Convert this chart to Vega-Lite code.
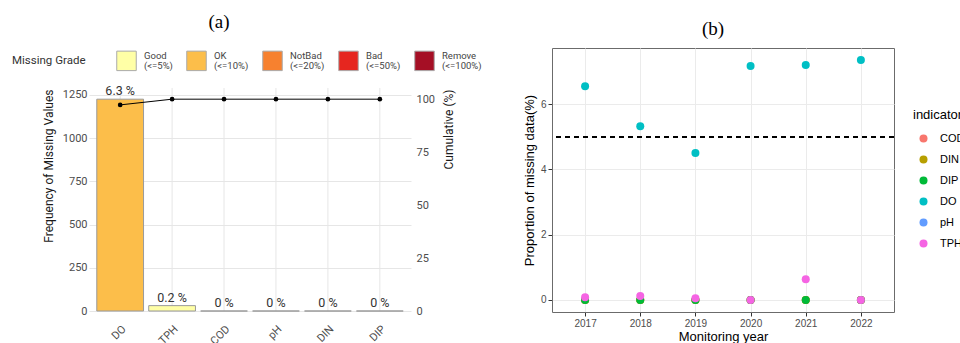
{
  "$schema": "https://vega.github.io/schema/vega-lite/v6.json",
  "background": "white",
  "padding": {"left": 12, "top": 13, "right": 0, "bottom": 0},
  "config": {"view": {"stroke": null}, "style": {"guide-label": {"lineHeight": 10}}},
  "datasets": {
    "pareto": [
      {"variable": "DO", "count": 1225, "pct": "6.3 %", "grade": "OK", "cum": 97.3},
      {"variable": "TPH", "count": 31, "pct": "0.2 %", "grade": "Good", "cum": 100},
      {"variable": "COD", "count": 0, "pct": "0 %", "grade": "Good", "cum": 100},
      {"variable": "pH", "count": 0, "pct": "0 %", "grade": "Good", "cum": 100},
      {"variable": "DIN", "count": 0, "pct": "0 %", "grade": "Good", "cum": 100},
      {"variable": "DIP", "count": 0, "pct": "0 %", "grade": "Good", "cum": 100}
    ],
    "yearly": [
      {"year": 2017, "indicator": "COD", "value": 0},
      {"year": 2018, "indicator": "COD", "value": 0},
      {"year": 2019, "indicator": "COD", "value": 0},
      {"year": 2020, "indicator": "COD", "value": 0},
      {"year": 2021, "indicator": "COD", "value": 0},
      {"year": 2022, "indicator": "COD", "value": 0},
      {"year": 2017, "indicator": "DIN", "value": 0},
      {"year": 2018, "indicator": "DIN", "value": 0},
      {"year": 2019, "indicator": "DIN", "value": 0},
      {"year": 2020, "indicator": "DIN", "value": 0},
      {"year": 2021, "indicator": "DIN", "value": 0},
      {"year": 2022, "indicator": "DIN", "value": 0},
      {"year": 2017, "indicator": "DIP", "value": 0},
      {"year": 2018, "indicator": "DIP", "value": 0},
      {"year": 2019, "indicator": "DIP", "value": 0},
      {"year": 2020, "indicator": "DIP", "value": 0},
      {"year": 2021, "indicator": "DIP", "value": 0},
      {"year": 2022, "indicator": "DIP", "value": 0},
      {"year": 2017, "indicator": "DO", "value": 6.55},
      {"year": 2018, "indicator": "DO", "value": 5.32},
      {"year": 2019, "indicator": "DO", "value": 4.5},
      {"year": 2020, "indicator": "DO", "value": 7.17},
      {"year": 2021, "indicator": "DO", "value": 7.2},
      {"year": 2022, "indicator": "DO", "value": 7.35},
      {"year": 2017, "indicator": "TPH", "value": 0.08},
      {"year": 2018, "indicator": "TPH", "value": 0.12},
      {"year": 2019, "indicator": "TPH", "value": 0.05},
      {"year": 2020, "indicator": "TPH", "value": 0},
      {"year": 2021, "indicator": "TPH", "value": 0.63},
      {"year": 2022, "indicator": "TPH", "value": 0}
    ]
  },
  "spacing": 40,
  "resolve": {"scale": {"color": "independent", "x": "independent", "y": "independent"}, "legend": {"color": "independent"}},
  "hconcat": [
    {
      "width": 322,
      "height": 263,
      "data": {"name": "pareto"},
      "title": {"text": "(a)", "font": "Liberation Serif", "fontSize": 19, "fontWeight": "normal", "color": "#000", "anchor": "middle", "dx": -31, "offset": 16, "frame": "group"},
      "layer": [
        {
          "layer": [
            {
              "mark": {"type": "rule", "color": "#E6E6E6", "strokeWidth": 1},
              "encoding": {
                "x": {"field": "variable", "type": "nominal", "sort": null,
                  "scale": {"domain": ["DO", "TPH", "COD", "pH", "DIN", "DIP"], "paddingInner": 0.1, "paddingOuter": 0.15},
                  "axis": {"title": null, "grid": false, "ticks": false, "domain": false, "labelAngle": -45, "labelAlign": "right", "labelBaseline": "top", "labelPadding": 12, "labelFont": "Roboto", "labelFontSize": 11, "labelColor": "#4D4D4D"}},
                "y": {"datum": 0, "type": "quantitative", "scale": {"domain": [0, 1521], "nice": false}},
                "y2": {"datum": 1290}
              }
            },
            {
              "mark": {"type": "bar", "stroke": "#9a9a9a", "strokeWidth": 1},
              "encoding": {
                "x": {"field": "variable", "type": "nominal", "sort": null},
                "y": {"field": "count", "type": "quantitative",
                  "axis": {"values": [0, 125, 250, 375, 500, 625, 750, 875, 1000, 1125, 1250], "format": "d",
                    "labelExpr": "datum.value % 250 === 0 ? datum.label : ''",
                    "ticks": false, "domain": false, "grid": true,
                    "gridColor": "#E6E6E6",
                    "gridWidth": {"condition": {"test": "datum.value % 250 === 0", "value": 1}, "value": 0.5},
                    "labelFont": "Roboto", "labelFontSize": 11, "labelColor": "#4D4D4D", "labelPadding": 2,
                    "title": "Frequency of Missing Values", "titleFont": "Roboto", "titleFontSize": 12, "titleFontWeight": "normal", "titleColor": "#1a1a1a", "titlePadding": 7,
                    "titleY": 41, "titleAlign": "right"}},
                "color": {"field": "grade", "type": "nominal",
                  "scale": {"domain": ["Good", "OK", "NotBad", "Bad", "Remove"], "range": ["#FFFFA6", "#FCBE4A", "#F7812F", "#E6261F", "#A50F25"]},
                  "legend": {"orient": "none", "legendX": -77, "legendY": 2, "direction": "horizontal", "padding": 0,
                    "title": "Missing Grade", "titleOrient": "left", "titleFont": "Roboto", "titleFontSize": 11.5, "titleFontWeight": "normal", "titleColor": "#333", "titlePadding": 30, "titleBaseline": "middle",
                    "symbolType": "square", "symbolSize": 380, "symbolStrokeColor": "#aaaaaa", "symbolStrokeWidth": 1, "symbolOpacity": 1,
                    "labelExpr": "datum.label == 'Good' ? ['Good','(<=5%)'] : datum.label == 'OK' ? ['OK','(<=10%)'] : datum.label == 'NotBad' ? ['NotBad','(<=20%)'] : datum.label == 'Bad' ? ['Bad','(<=50%)'] : ['Remove','(<=100%)']",
                    "labelFont": "Roboto", "labelFontSize": 9.5, "labelColor": "#444", "labelOffset": 7, "labelBaseline": "bottom", "columnPadding": 11}}
              }
            },
            {
              "mark": {"type": "text", "baseline": "bottom", "dy": -1, "font": "Roboto", "fontSize": 12.5, "color": "#333"},
              "encoding": {
                "x": {"field": "variable", "type": "nominal", "sort": null},
                "y": {"field": "count", "type": "quantitative"},
                "text": {"field": "pct"}
              }
            }
          ]
        },
        {
          "mark": {"type": "line", "color": "#000", "strokeWidth": 1, "point": {"filled": true, "color": "#000", "size": 22}},
          "encoding": {
            "x": {"field": "variable", "type": "nominal", "sort": null},
            "y": {"field": "cum", "type": "quantitative", "scale": {"domain": [0, 124.16], "nice": false},
              "axis": {"orient": "right", "values": [0, 25, 50, 75, 100], "grid": false, "ticks": false, "domain": false,
                "labelFont": "Roboto", "labelFontSize": 11, "labelColor": "#4D4D4D", "labelPadding": 5,
                "title": "Cumulative (%)", "titleFont": "Roboto", "titleFontSize": 12, "titleFontWeight": "normal", "titleColor": "#1a1a1a",
                "titleAngle": 270, "titleX": 37, "titleY": 41, "titleAlign": "right", "titleBaseline": "middle"}}
          }
        }
      ],
      "resolve": {"scale": {"y": "independent"}}
    },
    {
      "width": 342,
      "height": 264,
      "data": {"name": "yearly"},
      "view": {"stroke": "#6b6b6b", "strokeWidth": 1},
      "title": {"text": "(b)", "font": "Liberation Serif", "fontSize": 19, "fontWeight": "normal", "color": "#000", "anchor": "middle", "dx": -10, "offset": 9, "frame": "group"},
      "layer": [
        {
          "mark": {"type": "point", "filled": true, "size": 64, "opacity": 1},
          "encoding": {
            "x": {"field": "year", "type": "ordinal", "scale": {"type": "point", "padding": 0.6},
              "axis": {"labelAngle": 0, "grid": true, "gridColor": "#EBEBEB", "gridWidth": 1, "domain": false, "ticks": true, "tickSize": 4, "tickColor": "#333",
                "labelFont": "Liberation Sans", "labelFontSize": 10, "labelColor": "#4D4D4D", "labelPadding": 2,
                "title": "Monitoring year", "titleFont": "Liberation Sans", "titleFontSize": 13, "titleFontWeight": "normal", "titleColor": "#000", "titlePadding": 2}},
            "y": {"field": "value", "type": "quantitative", "scale": {"domain": [-0.37, 7.72], "nice": false, "zero": false},
              "axis": {"values": [0, 1, 2, 3, 4, 5, 6, 7],
                "labelExpr": "datum.value % 2 === 0 ? datum.label : ''",
                "grid": true, "gridColor": "#EBEBEB",
                "gridWidth": {"condition": {"test": "datum.value % 2 === 0", "value": 1}, "value": 0.5},
                "domain": false, "ticks": true, "tickSize": 4, "tickColor": "#333",
                "tickOpacity": {"condition": {"test": "datum.value % 2 === 0", "value": 1}, "value": 0},
                "labelFont": "Liberation Sans", "labelFontSize": 10, "labelColor": "#4D4D4D", "labelPadding": 2,
                "title": "Proportion of missing data(%)", "titleFont": "Liberation Sans", "titleFontSize": 13, "titleFontWeight": "normal", "titleColor": "#000", "titlePadding": 4}},
            "color": {"field": "indicator", "type": "nominal",
              "scale": {"domain": ["COD", "DIN", "DIP", "DO", "pH", "TPH"], "range": ["#F8766D", "#B79F00", "#00BA38", "#00BFC4", "#619CFF", "#F564E3"]},
              "legend": {"orient": "none", "legendX": 361, "legendY": 61, "padding": 0,
                "title": "indicator", "titleFont": "Liberation Sans", "titleFontSize": 13, "titleFontWeight": "normal", "titleColor": "#000", "titlePadding": 11,
                "symbolType": "circle", "symbolSize": 64, "symbolOffset": 5, "symbolOpacity": 1,
                "labelFont": "Liberation Sans", "labelFontSize": 11, "labelColor": "#000", "labelOffset": 11, "rowPadding": 9}}
          }
        },
        {
          "mark": {"type": "rule", "strokeDash": [5, 4], "color": "#000", "strokeWidth": 1},
          "encoding": {"y": {"datum": 5}}
        }
      ]
    }
  ]
}
